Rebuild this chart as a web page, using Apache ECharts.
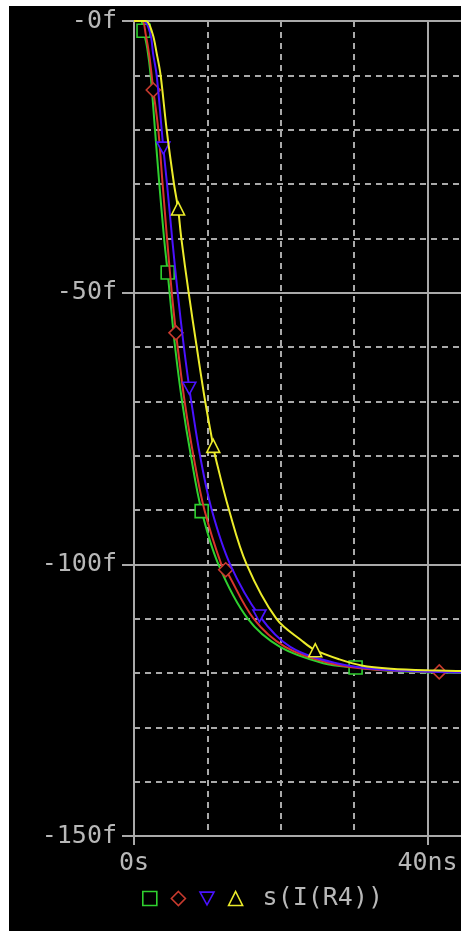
<!DOCTYPE html>
<html>
<head>
<meta charset="utf-8">
<script src="https://cdn.jsdelivr.net/npm/echarts@6/dist/echarts.min.js"></script>
<style>
  html, body { margin: 0; padding: 0; background: #ffffff; width: 461px; height: 931px; overflow: hidden; }
  #chart { position: absolute; left: 9px; top: 6px; width: 452px; height: 925px; background: #000000; }
</style>
</head>
<body>
<div id="chart"></div>
<script>
// ---- data (time in ns, value in fA) ----
const seriesNames = ['g', 'r', 'b', 's(I(R4))'];
const legendLabel = 's(I(R4))';

const tGreen = [0, 0.9, 1.3, 1.8, 2.27, 2.86, 3.45, 4.1, 4.59, 4.85, 5.6, 6.55, 7.75, 9.22, 11.5, 15.5, 19.9, 25.8, 30.2, 36, 44, 50];
const vGreen = [0, 0, -1.8, -5, -10, -20, -30, -40, -46.3, -50, -60, -70, -80, -90.2, -100, -110, -115.2, -118.2, -119.0, -119.7, -120, -120];
const mGreen = [2, 8, 13, 18];

const tRed = [0, 1.1, 1.6, 2.1, 2.63, 3.31, 3.9, 4.5, 5.15, 5.72, 5.95, 6.9, 8.1, 9.6, 11.9, 12.5, 16.3, 20.6, 26.7, 33, 41.6, 50];
const vRed = [0, 0, -2.5, -6.5, -12.7, -20, -30, -40, -50, -57.4, -60, -70, -80, -90, -100, -101, -110, -115.2, -118.2, -119.4, -119.8, -120];
const mRed = [4, 9, 15, 20];

const tBlue = [0, 1.3, 2.2, 2.6, 3.09, 3.77, 4.0, 4.5, 5.2, 5.95, 6.8, 7.54, 7.8, 9.0, 10.6, 13.1, 17.1, 21.3, 27.6, 34, 44, 50];
const vBlue = [0, 0, -2.2, -6, -10, -20, -23.4, -30, -40, -50, -60, -67.6, -70, -80, -90, -100, -109.5, -115.2, -118.2, -119.4, -119.9, -120];
const mBlue = [6, 11, 16];

const tYellow = [0, 1.6, 2.5, 3.1, 3.63, 4.45, 5.45, 6.0, 6.45, 7.45, 8.55, 9.7, 10.8, 11.05, 12.95, 15.35, 19.4, 23.0, 24.7, 28, 31, 35, 40, 50];
const vYellow = [0, 0, -2.2, -6, -10, -20, -30, -34.5, -40, -50, -60, -70, -78.2, -80, -90, -100, -110, -114.2, -115.8, -117.5, -118.6, -119.2, -119.5, -119.8];
const mYellow = [7, 12, 18];

const xTickValues = [0, 40];
const xTickLabels = ['0s', '40ns'];
const yTickValues = [-150, -100, -50, 0];
const yTickLabels = ['-150f', '-100f', '-50f', '-0f'];

// ---- styling ----
const colors = ['#2fd02f', '#d8352c', '#4a12ff', '#ecec2a'];
const markerColors = ['#2fd02f', '#c83a2e', '#4a12ff', '#ecec2a'];
const triDown = 'path://M0,0 L12,0 L6,11 Z';
const symbols = ['rect', 'diamond', triDown, 'triangle'];
const symbolSizes = [[13, 13], [14, 14], [13, 12], [13, 13]];
const gray = '#a9a9a9';
const textGray = '#b8b8b8';
const font = 'DejaVu Sans Mono';

function build(ts, vs, marks, k) {
  return ts.map(function (t, i) {
    if (marks.indexOf(i) >= 0) {
      return { value: [t, vs[i]], symbol: symbols[k], symbolSize: symbolSizes[k] };
    }
    return { value: [t, vs[i]], symbol: 'none' };
  });
}

const allT = [tGreen, tRed, tBlue, tYellow];
const allV = [vGreen, vRed, vBlue, vYellow];
const allM = [mGreen, mRed, mBlue, mYellow];

const series = seriesNames.map(function (name, k) {
  return {
    name: name,
    type: 'line',
    data: build(allT[k], allV[k], allM[k], k),
    symbol: symbols[k],
    showSymbol: true,
    showAllSymbol: true,
    smooth: 0.35,
    animation: false,
    lineStyle: { color: colors[k], width: 2 },
    itemStyle: { color: '#000000', borderColor: markerColors[k], borderWidth: 1.6 },
    emphasis: { disabled: true },
    z: 3 + k
  };
});

const chart = echarts.init(document.getElementById('chart'), null, { renderer: 'canvas' });
chart.setOption({
  backgroundColor: '#000000',
  animation: false,
  grid: { left: 125, top: 15, width: 587, height: 815, containLabel: false, outerBoundsMode: 'none' },
  xAxis: {
    type: 'value',
    min: 0,
    max: 80,
    interval: 40,
    axisLine: { show: true, onZero: false, lineStyle: { color: gray, width: 2 } },
    axisTick: { show: true, length: 9, lineStyle: { color: gray, width: 2 } },
    minorTick: { show: false, splitNumber: 4 },
    axisLabel: {
      color: textGray, fontFamily: font, fontSize: 25, margin: 15,
      formatter: function (v) { const i = xTickValues.indexOf(v); return i >= 0 ? xTickLabels[i] : ''; }
    },
    splitLine: { show: true, lineStyle: { color: gray, width: 2, type: 'solid' } },
    minorSplitLine: { show: true, lineStyle: { color: gray, width: 2, type: [6, 5] } }
  },
  yAxis: {
    type: 'value',
    min: -150,
    max: 0,
    interval: 50,
    axisLine: { show: true, onZero: false, lineStyle: { color: gray, width: 2 } },
    axisTick: { show: true, length: 12, lineStyle: { color: gray, width: 2 } },
    minorTick: { show: false, splitNumber: 5 },
    axisLabel: {
      color: textGray, fontFamily: font, fontSize: 25, margin: 17,
      formatter: function (v) { const i = yTickValues.indexOf(v); return i >= 0 ? yTickLabels[i] : ''; }
    },
    splitLine: { show: true, lineStyle: { color: gray, width: 2, type: 'solid' } },
    minorSplitLine: { show: true, lineStyle: { color: gray, width: 2, type: [6, 5] } }
  },
  legend: {
    left: 128,
    top: 875,
    itemWidth: 14,
    itemHeight: 14,
    itemGap: 13,
    selectedMode: false,
    data: seriesNames.map(function (name, k) {
      return {
        name: name,
        icon: symbols[k],
        itemStyle: { color: '#000000', borderColor: markerColors[k], borderWidth: 1.6 }
      };
    }),
    formatter: function (name) { return name === legendLabel ? '{t|' + name + '}' : ''; },
    textStyle: {
      color: textGray, fontFamily: font, fontSize: 25,
      rich: { t: { color: textGray, fontFamily: font, fontSize: 25, padding: [0, 0, 0, 15] } }
    }
  },
  series: series
});
</script>
</body>
</html>
